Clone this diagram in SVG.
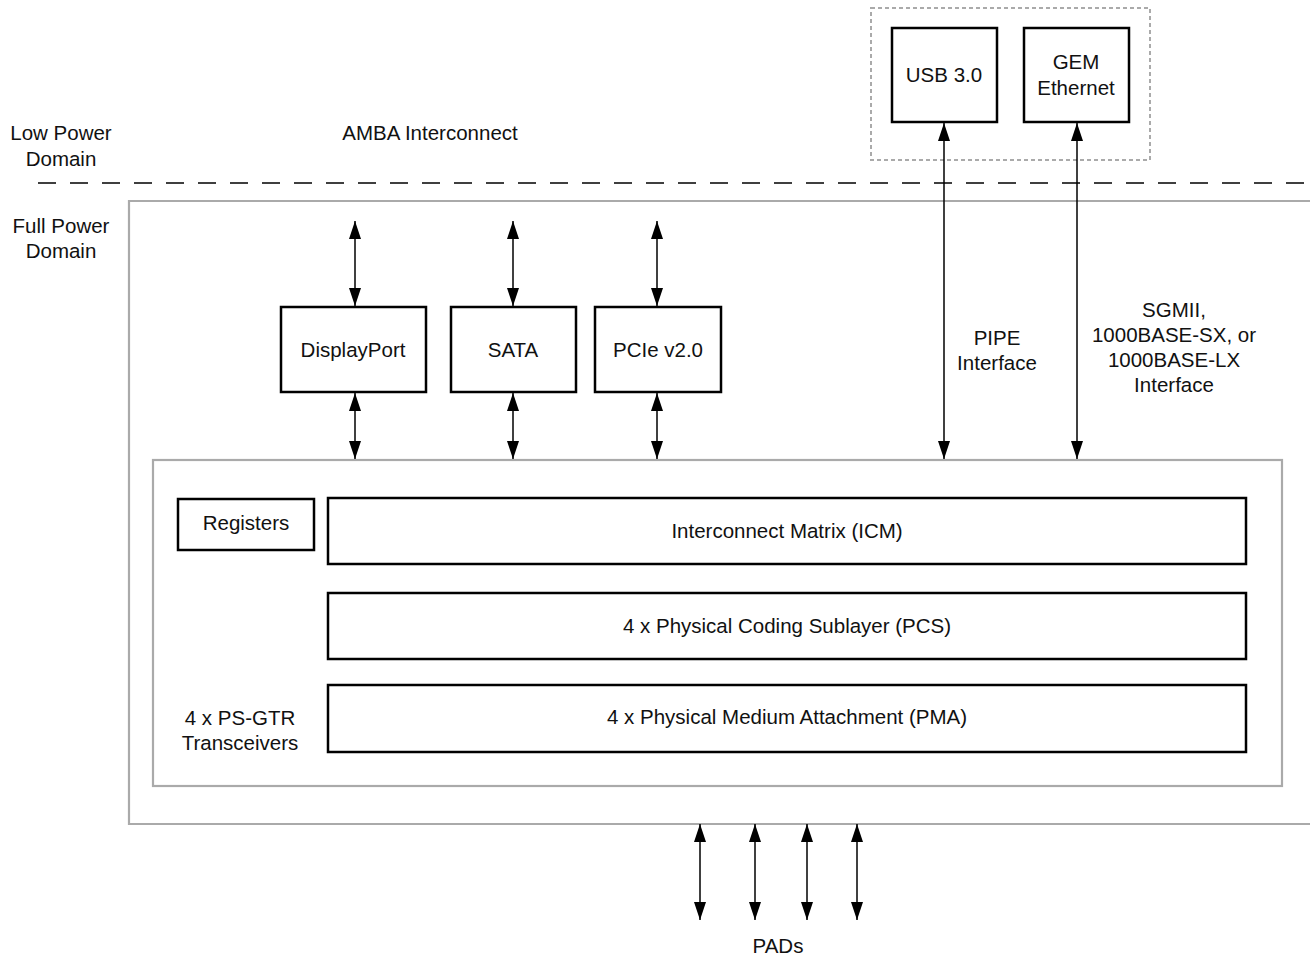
<svg xmlns="http://www.w3.org/2000/svg" width="1310" height="960" viewBox="0 0 1310 960">
<style>
text{font-family:"Liberation Sans",Arial,sans-serif;font-size:20.5px;fill:#111;text-anchor:middle}
.blk{fill:#fff;stroke:#000;stroke-width:2.5}
.gry{fill:none;stroke:#aaa;stroke-width:2.2}
.con{stroke:#000;stroke-width:1.5;fill:none;marker-start:url(#ah);marker-end:url(#ah)}
</style>
<defs>
<marker id="ah" markerUnits="userSpaceOnUse" markerWidth="18" markerHeight="12" viewBox="0 0 18 12" refX="18" refY="6" orient="auto-start-reverse">
<path d="M0,0 L18,6 L0,12 Z" fill="#000"/>
</marker>
</defs>
<rect width="1310" height="960" fill="#fff"/>
<g id="domains">
<line x1="38" y1="183" x2="1310" y2="183" stroke="#000" stroke-width="1.5" stroke-dasharray="18,14"/>
<text x="61" y="140">Low Power</text>
<text x="61" y="166">Domain</text>
<text x="61" y="233">Full Power</text>
<text x="61" y="258">Domain</text>
<text x="430" y="140">AMBA Interconnect</text>
<path d="M1312,201 H129 V824 H1312" class="gry"/>
</g>
<g id="lpd-box">
<rect x="871" y="8" width="279" height="152" fill="none" stroke="#aaa" stroke-width="2" stroke-dasharray="4,3"/>
</g>
<g id="usb"><rect class="blk" x="892" y="28" width="105" height="94"/><text x="944" y="82">USB 3.0</text></g>
<g id="gem"><rect class="blk" x="1024" y="28" width="105" height="94"/><text x="1076" y="69">GEM</text><text x="1076" y="95">Ethernet</text></g>
<g id="displayport"><rect class="blk" x="281" y="307" width="145" height="85"/><text x="353" y="357">DisplayPort</text></g>
<g id="sata"><rect class="blk" x="451" y="307" width="125" height="85"/><text x="513" y="357">SATA</text></g>
<g id="pcie"><rect class="blk" x="595" y="307" width="126" height="85"/><text x="658" y="357">PCIe v2.0</text></g>
<g id="gtr">
<rect class="gry" x="153" y="460" width="1129" height="326"/>
<text x="240" y="725">4 x PS-GTR</text>
<text x="240" y="750">Transceivers</text>
</g>
<g id="registers"><rect class="blk" x="178" y="499" width="136" height="51"/><text x="246" y="530">Registers</text></g>
<g id="icm"><rect class="blk" x="328" y="498" width="918" height="66"/><text x="787" y="538">Interconnect Matrix (ICM)</text></g>
<g id="pcs"><rect class="blk" x="328" y="593" width="918" height="66"/><text x="787" y="633">4 x Physical Coding Sublayer (PCS)</text></g>
<g id="pma"><rect class="blk" x="328" y="685" width="918" height="67"/><text x="787" y="724">4 x Physical Medium Attachment (PMA)</text></g>
<g id="labels">
<text x="997" y="345">PIPE</text>
<text x="997" y="370">Interface</text>
<text x="1174" y="317">SGMII,</text>
<text x="1174" y="342">1000BASE-SX, or</text>
<text x="1174" y="367">1000BASE-LX</text>
<text x="1174" y="392">Interface</text>
<text x="778" y="953">PADs</text>
</g>
<g id="connectors">
<line class="con" x1="355" y1="221" x2="355" y2="306"/>
<line class="con" x1="355" y1="393" x2="355" y2="459"/>
<line class="con" x1="513" y1="221" x2="513" y2="306"/>
<line class="con" x1="513" y1="393" x2="513" y2="459"/>
<line class="con" x1="657" y1="221" x2="657" y2="306"/>
<line class="con" x1="657" y1="393" x2="657" y2="459"/>
<line class="con" x1="944" y1="123" x2="944" y2="459"/>
<line class="con" x1="1077" y1="123" x2="1077" y2="459"/>
<line class="con" x1="700" y1="824" x2="700" y2="920"/>
<line class="con" x1="755" y1="824" x2="755" y2="920"/>
<line class="con" x1="807" y1="824" x2="807" y2="920"/>
<line class="con" x1="857" y1="824" x2="857" y2="920"/>
</g>
</svg>
